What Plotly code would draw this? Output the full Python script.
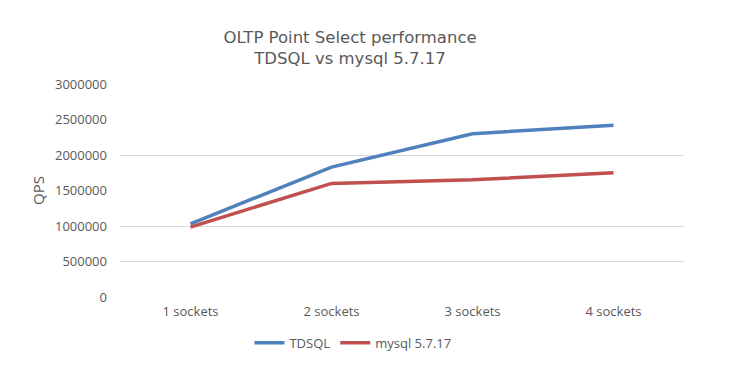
import plotly.graph_objects as go

categories = ["1 sockets", "2 sockets", "3 sockets", "4 sockets"]
tdsql = [1030000, 1830000, 2300000, 2420000]
mysql = [985000, 1600000, 1650000, 1750000]
series_names = ["TDSQL", "mysql 5.7.17"]
y_tickvals = [0, 500000, 1000000, 1500000, 2000000, 2500000, 3000000]
grid_vals = [0, 500000, 1000000, 2000000, 3000000]

fig = go.Figure()
fig.add_trace(go.Scatter(x=categories, y=tdsql, mode="lines", name=series_names[0],
                         line=dict(color="#4F81BD", width=3.5)))
fig.add_trace(go.Scatter(x=categories, y=mysql, mode="lines", name=series_names[1],
                         line=dict(color="#C0504D", width=3.5)))
# invisible trace to drive gridline axis
fig.add_trace(go.Scatter(x=categories, y=[None]*4, yaxis="y2", showlegend=False, hoverinfo="skip"))

font_family = "Open Sans, Liberation Sans, sans-serif"
fig.update_layout(
    width=740, height=377,
    margin=dict(l=120, r=56, t=84, b=80, autoexpand=False),
    paper_bgcolor="white", plot_bgcolor="white",
    title=dict(text="OLTP Point Select performance<br>TDSQL vs mysql 5.7.17",
               x=0.473, xanchor="center", y=0.886, yanchor="middle",
               font=dict(family="DejaVu Sans, sans-serif", size=16.5, color="#595959")),
    font=dict(family=font_family, color="#595959", size=13),
    xaxis=dict(type="category", range=[-0.5, 3.5], showgrid=False, zeroline=False,
               showline=False, ticks="", tickfont=dict(size=13, color="#595959"),
               ticklabelstandoff=5, automargin=False),
    yaxis=dict(range=[0, 3000000], tickvals=y_tickvals,
               ticktext=[str(v) for v in y_tickvals], showgrid=False, zeroline=False,
               showline=False, ticks="", ticklabelstandoff=12, automargin=False,
               tickfont=dict(size=13, color="#595959"),
               title=dict(text="QPS", font=dict(size=15, color="#595959"), standoff=6)),
    yaxis2=dict(range=[0, 3000000], overlaying="y", tickvals=grid_vals, showticklabels=False,
                showgrid=True, gridcolor="#D9D9D9", gridwidth=1, zeroline=False, showline=False,
                automargin=False),
    legend=dict(orientation="h", x=0.413, xanchor="center", y=-0.215, yanchor="middle",
                font=dict(size=13, color="#595959"), itemwidth=30, tracegroupgap=0),
    showlegend=True,
)
fig.write_html("out.html", config={"displayModeBar": False},
               post_script="document.body.style.margin='0';")
